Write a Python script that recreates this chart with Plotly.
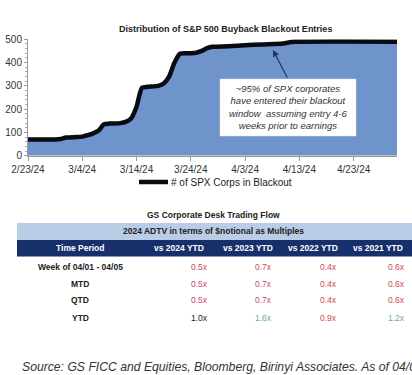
import plotly.graph_objects as go

# ---- chart data ----
dates = ["2024-02-23", "2024-02-28", "2024-02-29", "2024-03-01", "2024-03-03", "2024-03-04",
         "2024-03-05", "2024-03-06", "2024-03-07", "2024-03-08", "2024-03-09", "2024-03-11",
         "2024-03-12", "2024-03-13", "2024-03-14", "2024-03-15", "2024-03-16", "2024-03-18",
         "2024-03-19", "2024-03-20", "2024-03-21", "2024-03-22", "2024-03-24", "2024-03-25",
         "2024-03-26", "2024-03-27", "2024-03-28", "2024-03-31", "2024-04-03", "2024-04-06",
         "2024-04-10", "2024-04-12", "2024-05-01"]
corps_in_blackout = [70, 70, 72, 78, 80, 82,
                     88, 96, 108, 135, 138, 140,
                     145, 160, 210, 292, 296, 300,
                     310, 340, 400, 438, 440, 442,
                     450, 462, 468, 470, 474, 478,
                     482, 489, 490]
series_name = "# of SPX Corps in Blackout"
x_tick_dates = ["2024-02-23", "2024-03-04", "2024-03-14", "2024-03-24", "2024-04-03", "2024-04-13", "2024-04-23"]
x_tick_labels = ["2/23/24", "3/4/24", "3/14/24", "3/24/24", "4/3/24", "4/13/24", "4/23/24"]
y_ticks = [0, 100, 200, 300, 400, 500]

# ---- table data ----
table_title = "GS Corporate Desk Trading Flow"
table_subtitle = "2024 ADTV in terms of $notional as Multiples"
col_headers = ["Time Period", "vs 2024 YTD", "vs 2023 YTD", "vs 2022 YTD", "vs 2021 YTD"]
row_labels = ["Week of 04/01 - 04/05", "MTD", "QTD", "YTD"]
values = [["0.5x", "0.7x", "0.4x", "0.6x"],
          ["0.5x", "0.7x", "0.4x", "0.6x"],
          ["0.5x", "0.7x", "0.4x", "0.6x"],
          ["1.0x", "1.6x", "0.9x", "1.2x"]]
value_colors = [["red", "red", "red", "red"],
                ["red", "red", "red", "red"],
                ["red", "red", "red", "red"],
                ["black", "green", "red", "green"]]
source_text = "Source: GS FICC and Equities, Bloomberg, Birinyi Associates. As of 04/05"

W, H = 412, 375
def px(x):
    return x / W
def py(y):
    return 1 - y / H

FONT = "Liberation Sans, Arial, sans-serif"
fig = go.Figure()
fig.add_trace(go.Scatter(
    x=dates, y=corps_in_blackout, mode="lines", fill="tozeroy",
    fillcolor="#6f94cb", line=dict(color="#0a0a12", width=4.5, shape="spline", smoothing=0.6),
    name=series_name, showlegend=False, hoverinfo="skip",
))

fig.update_layout(
    template="none",
    width=W, height=H, margin=dict(l=0, r=0, t=0, b=0, pad=0), autosize=False,
    paper_bgcolor="white", plot_bgcolor="white",
    font=dict(family=FONT, color="#222"),
    xaxis=dict(domain=[px(28), px(397)], range=["2024-02-23", "2024-05-01"], automargin=False,
               tickvals=x_tick_dates, ticktext=x_tick_labels, showgrid=False,
               showline=True, linecolor="#999", ticks="outside", ticklen=4, tickcolor="#999",
               tickfont=dict(size=10, color="#333"), zeroline=False),
    yaxis=dict(domain=[py(155.7), py(39.3)], range=[0, 500], tickvals=y_ticks, automargin=False,
               showgrid=False, showline=True, linecolor="#999", ticks="outside", ticklen=3,
               tickcolor="#999", tickfont=dict(size=10, color="#333"), zeroline=False,
               minor=dict(ticks="outside", ticklen=2, tickcolor="#aaa", dtick=20)),
    showlegend=False,
)

def note(text, x, y, size, color, xanchor="center", **kw):
    fig.add_annotation(text=text, x=px(x), y=py(y), xref="paper", yref="paper",
                       xanchor=xanchor, yanchor="middle", showarrow=False,
                       font=dict(size=size, color=color), **kw)

# chart title
note("<b>Distribution of S&P 500 Buyback Blackout Entries</b>", 225, 29, 9, "#222")

# legend (manual)
fig.add_shape(type="line", xref="paper", yref="paper", x0=px(139), x1=px(168), y0=py(182), y1=py(182),
              line=dict(color="#0a0a12", width=4.5))
note(series_name, 169, 182, 10, "#222", xanchor="left")

# callout box
fig.add_shape(type="rect", xref="paper", yref="paper", x0=px(220), x1=px(356), y0=py(136), y1=py(79),
              fillcolor="white", line=dict(color="#e0e0e0", width=0.5))
note("<i>~95% of SPX corporates<br>have entered their blackout<br>window  assuming entry 4-6<br>weeks prior to earnings</i>",
     288, 107.5, 9.5, "#333", align="center")
fig.add_annotation(x=px(273), y=py(50), ax=15, ay=29, xref="paper", yref="paper",
                   axref="pixel", ayref="pixel", text="", showarrow=True, arrowhead=2,
                   arrowsize=1, arrowwidth=1.3, arrowcolor="#1f3a6a")

# table
note("<b>" + table_title + "</b>", 213, 215, 8.5, "#222")
fig.add_shape(type="rect", xref="paper", yref="paper", x0=px(17), x1=1.0, y0=py(240), y1=py(223),
              fillcolor="#b9cde6", line=dict(width=0))
note("<b>" + table_subtitle + "</b>", 213, 231.5, 8.5, "#222")
fig.add_shape(type="rect", xref="paper", yref="paper", x0=px(17), x1=1.0, y0=py(256.5), y1=py(240),
              fillcolor="#17306b", line=dict(width=0))
header_x = [80, 179, 248, 313, 378]
for hx, h in zip(header_x, col_headers):
    note("<b>" + h + "</b>", hx, 248.5, 8.5, "white")
row_y = [267, 284, 300, 317.5]
val_x = [210, 274, 339, 407]
cmap = {"red": "#cc4a5c", "green": "#6aad88", "black": "#222"}
for ry, lab, vals, cols in zip(row_y, row_labels, values, value_colors):
    note("<b>" + lab + "</b>", 80, ry, 8.5, "#222")
    for vx, v, c in zip(val_x, vals, cols):
        note(v, vx, ry, 8.5, cmap[c], xanchor="right")

note("<i>" + source_text + "</i>", 20, 367, 12.2, "#333", xanchor="left")

fig.write_html("out.html", config={"displayModeBar": False},
               post_script="document.body.style.margin='0px';")
